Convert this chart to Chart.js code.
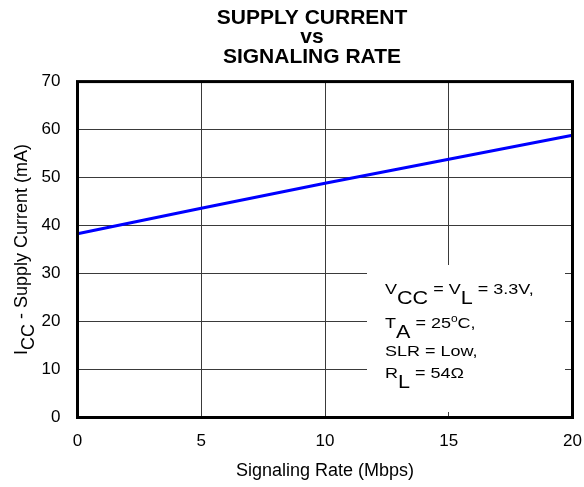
<!DOCTYPE html>
<html>
<head>
<meta charset="utf-8">
<script src="https://cdn.jsdelivr.net/npm/chart.js@4"></script>
<style>
  html, body { margin: 0; padding: 0; background: #fff; }
  #wrap { width: 584px; height: 487px; }
</style>
</head>
<body>
<div id="wrap"><canvas id="myChart"></canvas></div>
<script>
const rates = [0, 5, 10, 15, 20];
const supplyCurrent = [38.3, 43.6, 48.8, 53.8, 58.8];
const titleLines = ['SUPPLY CURRENT', 'vs', 'SIGNALING RATE'];
const xTicks = [0, 5, 10, 15, 20];
const yTicks = [0, 10, 20, 30, 40, 50, 60, 70];

const FONT = 'Liberation Sans, Arial, Helvetica, sans-serif';
const ctx = document.getElementById('myChart');

// draws text pieces, sub pieces dropped below the baseline
function drawRuns(c, x, y, runs, mainSize, subSize, subDrop) {
  for (const r of runs) {
    let size = mainSize, dy = 0;
    if (r.sub) { size = subSize; dy = subDrop; }
    if (r.sup) { size = r.sup; dy = -6; }
    c.font = size + 'px ' + FONT;
    c.fillText(r.t, x, y + dy);
    x += c.measureText(r.t).width;
  }
  return x;
}

function runsWidth(c, runs, mainSize, subSize) {
  let w = 0;
  for (const r of runs) {
    c.font = (r.sub ? subSize : (r.sup || mainSize)) + 'px ' + FONT;
    w += c.measureText(r.t).width;
  }
  return w;
}

const extras = {
  id: 'extras',
  beforeDatasetsDraw(chart) {
    const c = chart.ctx;
    // white box for the test conditions
    c.save();
    c.fillStyle = '#fff';
    c.fillRect(367, 265, 198, 147);
    c.restore();
  },
  afterDraw(chart) {
    const c = chart.ctx;
    const a = chart.chartArea;
    c.save();
    c.strokeStyle = '#000';
    c.lineWidth = 3;
    c.strokeRect(a.left, a.top, a.right - a.left, a.bottom - a.top);

    c.fillStyle = '#000';
    c.textBaseline = 'alphabetic';
    c.textAlign = 'left';

    // y axis title with subscript
    const yRuns = [{ t: 'I' }, { t: 'CC', sub: true }, { t: ' - Supply Current (mA)' }];
    const yw = runsWidth(c, yRuns, 18, 18);
    c.save();
    c.translate(27, (a.top + a.bottom) / 2);
    c.rotate(-Math.PI / 2);
    drawRuns(c, -yw / 2, 0, yRuns, 18, 18, 6.5);
    c.restore();

    // test conditions
    const lines = [
      { y: 294, runs: [{ t: 'V' }, { t: 'CC', sub: true }, { t: ' = V' }, { t: 'L', sub: true }, { t: ' = 3.3V,' }] },
      { y: 328, runs: [{ t: 'T' }, { t: 'A', sub: true }, { t: ' = 25' }, { t: 'o', sup: 10 }, { t: 'C,' }] },
      { y: 356, runs: [{ t: 'SLR = Low,' }] },
      { y: 378, runs: [{ t: 'R' }, { t: 'L', sub: true }, { t: ' = 54\u03A9' }] }
    ];
    for (const l of lines) {
      c.save();
      c.translate(385, l.y);
      c.scale(1.2, 1);
      drawRuns(c, 0, 0, l.runs, 15, 18, 10);
      c.restore();
    }
    c.restore();
  }
};

const chart = new Chart(ctx, {
  type: 'line',
  data: {
    datasets: [{
      data: rates.map((r, i) => ({ x: r, y: supplyCurrent[i] })),
      borderColor: '#0000ff',
      borderWidth: 3,
      pointRadius: 0,
      cubicInterpolationMode: 'monotone',
      fill: false
    }]
  },
  options: {
    responsive: true,
    maintainAspectRatio: false,
    animation: { duration: 0 },
    layout: { padding: { left: 40, right: 0, top: 0, bottom: 0 } },
    plugins: {
      legend: { display: false },
      tooltip: { enabled: false },
      title: {
        display: true,
        text: titleLines,
        color: '#000',
        font: { family: FONT, size: 21, weight: 'bold', lineHeight: 0.93 },
        padding: { top: 8, bottom: 15 }
      }
    },
    scales: {
      x: {
        type: 'linear',
        min: 0,
        max: 20,
        afterBuildTicks: (s) => { s.ticks = xTicks.map(v => ({ value: v })); },
        afterFit: (s) => { s.height = 69.5; s.paddingLeft = 0; s.paddingRight = 11.5; },
        grid: { color: '#3a3a3a', lineWidth: 1, drawTicks: false },
        border: { display: false },
        ticks: { color: '#000', font: { family: FONT, size: 17 }, padding: 14, maxRotation: 0 },
        title: {
          display: true,
          text: 'Signaling Rate (Mbps)',
          color: '#000',
          font: { family: FONT, size: 18 },
          padding: { top: 0, bottom: 5 }
        }
      },
      y: {
        min: 0,
        max: 70,
        afterBuildTicks: (s) => { s.ticks = yTicks.map(v => ({ value: v })); },
        afterFit: (s) => { s.width = 37.5; },
        grid: { color: '#3a3a3a', lineWidth: 1, drawTicks: false },
        border: { display: false },
        ticks: { color: '#000', font: { family: FONT, size: 17 }, padding: 17 }
      }
    }
  },
  plugins: [extras]
});
</script>
</body>
</html>
